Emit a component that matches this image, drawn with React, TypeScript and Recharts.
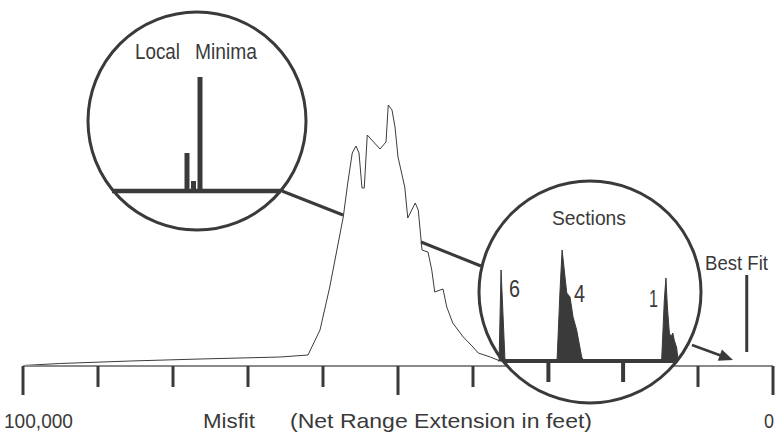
import React from "react";
import {
  ComposedChart,
  Line,
  XAxis,
  YAxis,
  ReferenceLine,
  BarChart,
  Bar,
  AreaChart,
  Area,
} from "recharts";

const INK = "#3a3a3a";
const FONT = "'Liberation Sans', Arial, sans-serif";

// misfit distribution: net range extension (feet) vs. number of models
const misfitFeet = [
  100000, 95100, 85700, 76400, 65700, 62000, 60400, 59100, 57300, 56700, 56100,
  55600, 55200, 54800, 54500, 54100, 53500, 52400, 51600, 51300, 50800, 50400,
  50000, 49100, 48700, 47700, 47300, 46800, 46000, 45500, 45100, 44000, 43500,
  42700, 41300, 40000, 39300, 37700, 36400, 31100, 25700,
];
const modelCount = [
  0.5, 2.5, 5, 7, 9, 11, 36, 79, 149, 183, 213, 220, 213, 178, 178, 231, 226,
  217, 224, 261, 256, 239, 209, 179, 148, 163, 156, 116, 114, 96, 74, 77, 59,
  43, 29, 19, 13, 9, 5, 1, 0,
];
const misfitTicks = [
  100000, 90000, 80000, 70000, 60000, 50000, 40000, 30000, 20000, 10000, 0,
];
const bestFitFeet = 3500;
const bestFitSpan = [14, 91];

// inset: local minima bins
const minimaBins = [
  0, 0, 0, 0, 0, 0, 0, 0, 0, 0, 0, 38, 10, 114, 0, 0, 0, 0, 0, 0, 0, 0, 0, 0,
  0, 0,
];

// inset: sections (magnified low-misfit end)
const sectionPos = [
  0, 0.6, 1.7, 3.9, 32.8, 34.4, 35.6, 38.2, 40, 41.7, 43.7, 46.5, 47.5, 90.9,
  92.4, 93.3, 94.1, 95.2, 96.1, 97.1, 97.9, 99.3, 100,
];
const sectionCount = [
  0, 0, 91, 0, 0, 68, 111, 68, 64, 44, 31, 4, 0, 0, 61, 83, 54, 28, 24, 28,
  21, 13, 0,
];
const sectionTicks = [28, 69.5];

const mainData = misfitFeet.map((m, i) => ({ misfit: m, count: modelCount[i] }));
const minimaData = minimaBins.map((v, i) => ({ bin: i, count: v }));
const sectionData = sectionPos.map((p, i) => ({ pos: p, count: sectionCount[i] }));

const txt = { fontFamily: FONT, fill: INK };

const AxisTick = (props: any) => {
  const { x, y, payload } = props;
  const v = payload.value;
  const major = v % 50000 === 0;
  return (
    <g>
      <line x1={x} x2={x} y1={y} y2={y + (major ? 29 : 21)} stroke={INK} strokeWidth={3} />
      {v === 100000 && (
        <text x={x - 19} y={y + 62} fontSize={21} textLength={69} lengthAdjust="spacingAndGlyphs" style={txt}>
          100,000
        </text>
      )}
      {v === 0 && (
        <text x={x - 9} y={y + 62} fontSize={21} textLength={10} lengthAdjust="spacingAndGlyphs" style={txt}>
          0
        </text>
      )}
    </g>
  );
};

const MisfitLabel = (props: any) => {
  const { x, y } = props.viewBox;
  return (
    <g>
      <text x={x + 180} y={y + 62} fontSize={21} textLength={52} lengthAdjust="spacingAndGlyphs" style={txt}>
        Misfit
      </text>
      <text x={x + 267} y={y + 62} fontSize={21} textLength={302} lengthAdjust="spacingAndGlyphs" style={txt}>
        (Net Range Extension in feet)
      </text>
    </g>
  );
};

const SectionTick = (props: any) => {
  const { x, y } = props;
  return <line x1={x} x2={x} y1={y} y2={y + 21} stroke={INK} strokeWidth={4} />;
};

const Overlay = () => (
  <svg
    width={776}
    height={435}
    style={{ position: "absolute", left: 0, top: 0, pointerEvents: "none" }}
  >
    <line x1={282} y1={191} x2={343} y2={215} stroke={INK} strokeWidth={3} />
    <line x1={421} y1={242} x2={481} y2={266} stroke={INK} strokeWidth={3} />
    <circle cx={197} cy={121} r={109} fill="#fff" stroke={INK} strokeWidth={3} />
    <circle cx={590} cy={292} r={111} fill="#fff" stroke={INK} strokeWidth={3} />
    <line x1={692} y1={345} x2={722} y2={356} stroke={INK} strokeWidth={2.5} />
    <polygon points="733,360 717.8,360.8 721.9,349.6" fill={INK} />
    <text x={135} y={59} fontSize={22} textLength={45} lengthAdjust="spacingAndGlyphs" style={txt}>
      Local
    </text>
    <text x={195} y={59} fontSize={22} textLength={62} lengthAdjust="spacingAndGlyphs" style={txt}>
      Minima
    </text>
    <text x={589} y={225} fontSize={21} textAnchor="middle" textLength={74} lengthAdjust="spacingAndGlyphs" style={txt}>
      Sections
    </text>
    <text x={705} y={270} fontSize={21} textLength={63} lengthAdjust="spacingAndGlyphs" style={txt}>
      Best Fit
    </text>
    <text x={509} y={297} fontSize={23} textLength={11} lengthAdjust="spacingAndGlyphs" style={txt}>
      6
    </text>
    <text x={574} y={302} fontSize={23} textLength={11} lengthAdjust="spacingAndGlyphs" style={txt}>
      4
    </text>
    <text x={649} y={307} fontSize={23} textLength={9} lengthAdjust="spacingAndGlyphs" style={txt}>
      1
    </text>
  </svg>
);

export default function App() {
  return (
    <div style={{ position: "absolute", left: 0, top: 0, width: 776, height: 435, background: "#fff" }}>
      <div style={{ position: "absolute", left: 0, top: 0 }}>
        <ComposedChart
          width={776}
          height={435}
          data={mainData}
          margin={{ top: 66, right: 3, left: 23, bottom: 0 }}
        >
          <XAxis
            type="number"
            dataKey="misfit"
            domain={[0, 100000]}
            reversed
            ticks={misfitTicks}
            interval={0}
            height={69}
            tickSize={0}
            tickMargin={0}
            tickLine={false}
            axisLine={{ stroke: "#8a8a8a", strokeWidth: 2 }}
            tick={<AxisTick />}
            label={<MisfitLabel />}
          />
          <YAxis hide domain={[0, 300]} />
          <Line
            type="linear"
            dataKey="count"
            stroke="#3c3c3c"
            strokeWidth={1}
            dot={false}
            isAnimationActive={false}
          />
          <ReferenceLine
            segment={[
              { x: bestFitFeet, y: bestFitSpan[0] },
              { x: bestFitFeet, y: bestFitSpan[1] },
            ]}
            stroke={INK}
            strokeWidth={3}
          />
        </ComposedChart>
      </div>
      <Overlay />
      <div style={{ position: "absolute", left: 112, top: 71 }}>
        <BarChart
          width={169}
          height={125}
          data={minimaData}
          margin={{ top: 0, right: 0, left: 0, bottom: 5 }}
        >
          <XAxis dataKey="bin" hide />
          <YAxis hide domain={[0, 120]} />
          <ReferenceLine y={0} stroke={INK} strokeWidth={4.5} />
          <Bar dataKey="count" fill={INK} barSize={5} isAnimationActive={false} />
        </BarChart>
      </div>
      <div style={{ position: "absolute", left: 498, top: 240 }}>
        <AreaChart
          width={180}
          height={146}
          data={sectionData}
          margin={{ top: 0, right: 0, left: 0, bottom: 0 }}
        >
          <XAxis
            type="number"
            dataKey="pos"
            domain={[0, 100]}
            ticks={sectionTicks}
            height={25}
            tickSize={0}
            tickMargin={0}
            tickLine={false}
            axisLine={false}
            tick={<SectionTick />}
          />
          <YAxis hide domain={[0, 121]} />
          <Area
            type="linear"
            dataKey="count"
            stroke={INK}
            strokeWidth={1}
            fill={INK}
            fillOpacity={1}
            isAnimationActive={false}
          />
          <ReferenceLine
            segment={[
              { x: 2.8, y: 0 },
              { x: 99.4, y: 0 },
            ]}
            stroke={INK}
            strokeWidth={4}
          />
        </AreaChart>
      </div>
    </div>
  );
}
